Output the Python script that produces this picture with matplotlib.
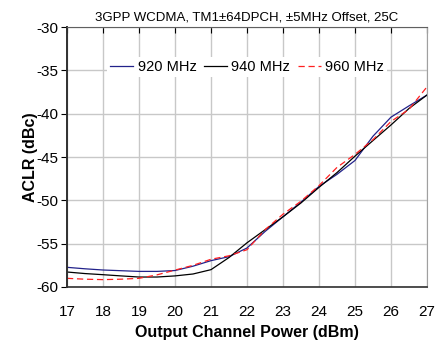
import numpy as np
import matplotlib
matplotlib.use('Agg')
import matplotlib.pyplot as plt

plt.rcParams['font.family'] = ['Liberation Sans', 'DejaVu Sans']
plt.rcParams['axes.unicode_minus'] = False

# output power (dBm)
pout = [17, 17.5, 18, 18.5, 19, 19.5, 20, 20.5, 21, 21.5, 22,
        22.5, 23, 23.5, 24, 24.5, 25, 25.5, 26, 26.5, 27]

# ACLR (dBc) per frequency
aclr_920 = [-57.73, -57.9, -58.04, -58.12, -58.2, -58.2, -58.1, -57.6, -56.96, -56.5, -55.5,
            -53.6, -51.9, -50.2, -48.4, -47.0, -45.4, -42.6, -40.4, -39.1, -37.85]
aclr_940 = [-58.27, -58.45, -58.58, -58.72, -58.85, -58.85, -58.72, -58.5, -58.0, -56.6, -54.9,
            -53.4, -51.9, -50.3, -48.5, -46.8, -44.9, -43.1, -41.3, -39.4, -37.85]
aclr_960 = [-59.0, -59.1, -59.15, -59.1, -59.0, -58.6, -58.05, -57.5, -56.8, -56.4, -55.7,
            -53.4, -51.6, -50.1, -48.3, -46.2, -44.7, -43.0, -40.9, -39.5, -36.9]

fig = plt.figure(figsize=(4.43, 3.48), dpi=100)
ax = fig.add_axes([0.1512, 0.1753, 0.8127, 0.7471])

ax.plot(pout, aclr_920, color='#22228a', lw=0.9, label='920 MHz')
ax.plot(pout, aclr_940, color='black', lw=0.9, label='940 MHz')
ax.plot(pout, aclr_960, color='#ff2020', lw=0.9, ls=(0, (5, 3)), label='960 MHz')

ax.set_xlim(17, 27)
ax.set_ylim(-60, -30)
ax.set_xticks(np.arange(17, 28, 1))
ax.set_yticks(np.arange(-60, -29, 5))
ax.grid(True, color='#c8c8c8', lw=1.0)
ax.set_axisbelow(True)

ax.spines['left'].set_color('#303030')
ax.spines['left'].set_linewidth(1.4)
ax.spines['bottom'].set_color('#303030')
ax.spines['bottom'].set_linewidth(1.2)
ax.spines['top'].set_color('#606060')
ax.spines['right'].set_color('#a0a0a0')

ax.tick_params(axis='y', direction='out', length=4, width=0.8, labelsize=11, pad=2)
ax.tick_params(axis='x', direction='in', length=4, width=0.8, top=True, bottom=False,
               labelsize=11, pad=13)

ax.set_xlabel('Output Channel Power (dBm)', fontsize=11.5, fontweight='bold', labelpad=4)
ax.set_ylabel('ACLR (dBc)', fontsize=11.5, fontweight='bold', labelpad=-1)
ax.set_title('3GPP WCDMA, TM1\u00b164DPCH, \u00b15MHz Offset, 25C', fontsize=9.5, pad=5)

leg = ax.legend(loc='upper center', bbox_to_anchor=(0.5, 0.885), ncol=3, fontsize=10.5,
                frameon=True, fancybox=False, edgecolor='none', facecolor='white', framealpha=1,
                handlelength=1.6, handletextpad=0.3, columnspacing=0.5, borderpad=0.2,
                borderaxespad=0)

fig.savefig('out.png', dpi=100)
